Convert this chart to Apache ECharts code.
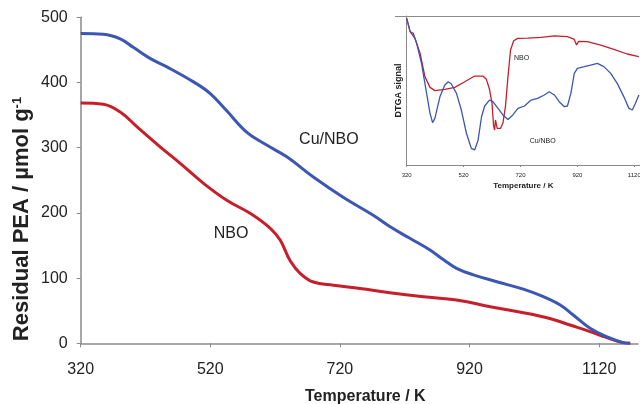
<!DOCTYPE html>
<html><head><meta charset="utf-8">
<script src="https://cdn.jsdelivr.net/npm/echarts@6/dist/echarts.min.js"></script>
<style>html,body{margin:0;padding:0;background:#fff}#c{width:640px;height:404px}</style>
</head><body><div id="c"></div>
<script>
// Tick labels (temperature, K)
const tempTicks = [320, 520, 720, 920, 1120];
const residualTicks = [0, 100, 200, 300, 400, 500];

// Main chart: residual PEA (µmol/g) vs temperature (K)
const cuNboResidual = [
  [320,475],[355,474],[381,467],[401,454],[427,437],[453,424],[494,401],[520,383],
  [545,357],[576,324],[607,304],[638,286],[679,255],[725,224],[772,196],[797,179],
  [828,161],[859,143],[880,128],[900,115],[926,105],[962,94.5],[1003,83],[1034,71.5],
  [1060,58.7],[1080,43.4],[1106,23],[1132,10],[1157,1],[1168,0]
];
const nboResidual = [
  [320,368.6],[355,366.6],[381,354.8],[407,332],[443,301],[474,275.6],[510,245],[546,219],
  [582,199],[613,176],[628,158],[643,127],[659,107],[679,94],[710,89],[751,84],[797,77.6],
  [849,71.5],[900,66.4],[952,56],[1003,47],[1044,38],[1075,28],[1106,18],[1132,8.6],
  [1157,1],[1168,0]
];

// Inset: DTGA signal (arbitrary units) vs temperature (K)
const nboDtga = [
  [320,98.4],[332,89.5],[349,85],[367,75],[384,59.3],[402,52.1],[419,49.9],[454,50.8],
  [489,52.1],[524,55.9],[559,59.7],[588,59.7],[600,57.5],[611,50.8],[620,41.4],[625,26.8],
  [629,23.5],[632,30.2],[638,24.6],[650,24.6],[658,28],[667,39.1],[676,59.3],[685,77.2],
  [696,83.4],[710,85],[745,85.2],[792,85.7],[839,86.6],[885,86.1],[909,84.3],[917,80.5],
  [924,83],[955,82.8],[1002,80.5],[1048,77.6],[1095,74.5],[1136,72.7]
];
const cuNboDtga = [
  [320,98.4],[332,89.5],[343,88.4],[355,81.7],[372,68.2],[390,48.1],[402,34.7],[411,28.4],
  [419,31.3],[437,45.9],[454,53.7],[466,55.9],[477,54.4],[495,48.1],[512,36.9],[530,21.3],
  [547,11.2],[559,10.1],[571,16.8],[583,32.4],[594,39.6],[611,43.6],[623,42.5],[641,38],
  [658,33.6],[676,30.6],[693,33.6],[711,38],[734,39.6],[757,43.6],[780,44.7],[804,47],
  [821,49.2],[839,47],[856,42.5],[874,39.1],[885,39.6],[897,48.1],[909,61.5],[920,64.9],
  [944,66],[967,67.1],[990,68.2],[1013,66],[1037,61.5],[1060,54.8],[1083,45.9],[1101,38],
  [1113,36.9],[1124,41.4],[1136,47]
];

const BLUE = '#3b56b3', RED = '#c61f2b', AX = '#8a8a8a', TXT = '#222';
const FONT = 'Liberation Sans, Arial, sans-serif';
const plain = v => String(v);

const chart = echarts.init(document.getElementById('c'), null, {renderer: 'canvas'});
chart.setOption({
  animation: false,
  backgroundColor: '#fff',
  textStyle: {fontFamily: FONT},
  grid: [
    {left: 80.7, right: 2, top: 17.3, bottom: 60.7, containLabel: false, outerBoundsMode: 'none'},
    {left: 406.7, right: 0, top: 16, bottom: 239, containLabel: false, outerBoundsMode: 'none'}
  ],
  xAxis: [
    {
      type: 'value', gridIndex: 0, min: 320, max: 1180,
      name: 'Temperature / K', nameLocation: 'middle', nameGap: 45,
      nameTextStyle: {fontSize: 16, fontWeight: 'bold', color: TXT, fontFamily: FONT, padding: [0, 0, 0, 12]},
      axisLine: {show: true, lineStyle: {color: AX, width: 1.5}},
      axisTick: {show: true, length: 4, lineStyle: {color: AX}, customValues: tempTicks},
      axisLabel: {fontSize: 16, color: TXT, margin: 18, customValues: tempTicks, fontFamily: FONT, formatter: plain},
      splitLine: {show: false}
    },
    {
      type: 'value', gridIndex: 1, min: 320, max: 1140,
      name: 'Temperature / K', nameLocation: 'middle', nameGap: 17,
      nameTextStyle: {fontSize: 8, fontWeight: 'bold', color: TXT, fontFamily: FONT},
      axisLine: {show: true, lineStyle: {color: AX, width: 1}},
      axisTick: {show: true, length: 2, lineStyle: {color: AX}, customValues: tempTicks},
      axisLabel: {fontSize: 6, color: TXT, margin: 7, customValues: tempTicks, fontFamily: FONT, formatter: plain},
      splitLine: {show: false}
    }
  ],
  yAxis: [
    {
      type: 'value', gridIndex: 0, min: 0, max: 500, interval: 100,
      axisLine: {show: true, lineStyle: {color: AX, width: 1.5}},
      axisTick: {show: true, length: 4, lineStyle: {color: AX}},
      axisLabel: {fontSize: 16, color: TXT, margin: 13, fontFamily: FONT},
      splitLine: {show: false}
    },
    {
      type: 'value', gridIndex: 1, min: 0, max: 100,
      name: 'DTGA signal', nameLocation: 'middle', nameGap: 3.5,
      nameTextStyle: {fontSize: 9, fontWeight: 'bold', color: TXT, fontFamily: FONT},
      axisLine: {show: true, lineStyle: {color: AX, width: 1}},
      axisTick: {show: false}, axisLabel: {show: false},
      splitLine: {show: false}
    }
  ],
  graphic: [
    {type: 'line', shape: {x1: 395, y1: 16.5, x2: 640, y2: 16.5}, style: {stroke: AX, lineWidth: 1}, z: 10},
    {
      type: 'text', x: 22, y: 219, rotation: Math.PI / 2, z: 10,
      style: {
        text: 'Residual PEA / µmol g{sup|-1}',
        rich: {sup: {fontSize: 13, fontWeight: 'bold', fill: TXT, fontFamily: FONT, verticalAlign: 'top', padding: [0, 0, 8, 0]}},
        fontSize: 22, fontWeight: 'bold', fill: TXT, fontFamily: FONT,
        align: 'center', verticalAlign: 'middle'
      }
    }
  ],
  series: [
    {
      name: 'Cu/NBO', type: 'line', xAxisIndex: 0, yAxisIndex: 0, data: cuNboResidual,
      showSymbol: false, smooth: 0.4, lineStyle: {color: BLUE, width: 3}, z: 3,
      markPoint: {symbol: 'circle', symbolSize: 0, silent: true,
        label: {show: true, formatter: 'Cu/NBO', fontSize: 16, color: TXT, fontFamily: FONT, position: 'inside'},
        data: [{coord: [703, 312]}]}
    },
    {
      name: 'NBO', type: 'line', xAxisIndex: 0, yAxisIndex: 0, data: nboResidual,
      showSymbol: false, smooth: 0.4, lineStyle: {color: RED, width: 3}, z: 2,
      markPoint: {symbol: 'circle', symbolSize: 0, silent: true,
        label: {show: true, formatter: 'NBO', fontSize: 16, color: TXT, fontFamily: FONT, position: 'inside'},
        data: [{coord: [552, 169]}]}
    },
    {
      name: 'NBO DTGA', type: 'line', xAxisIndex: 1, yAxisIndex: 1, data: nboDtga,
      showSymbol: false, lineStyle: {color: RED, width: 1.3}, z: 4,
      markPoint: {symbol: 'circle', symbolSize: 0, silent: true,
        label: {show: true, formatter: 'NBO', fontSize: 7, color: TXT, fontFamily: FONT, position: 'inside'},
        data: [{coord: [724, 71.6]}]}
    },
    {
      name: 'Cu/NBO DTGA', type: 'line', xAxisIndex: 1, yAxisIndex: 1, data: cuNboDtga,
      showSymbol: false, lineStyle: {color: BLUE, width: 1.3}, z: 4,
      markPoint: {symbol: 'circle', symbolSize: 0, silent: true,
        label: {show: true, formatter: 'Cu/NBO', fontSize: 7, color: TXT, fontFamily: FONT, position: 'inside'},
        data: [{coord: [798, 16.1]}]}
    }
  ]
});
</script>
</body></html>
